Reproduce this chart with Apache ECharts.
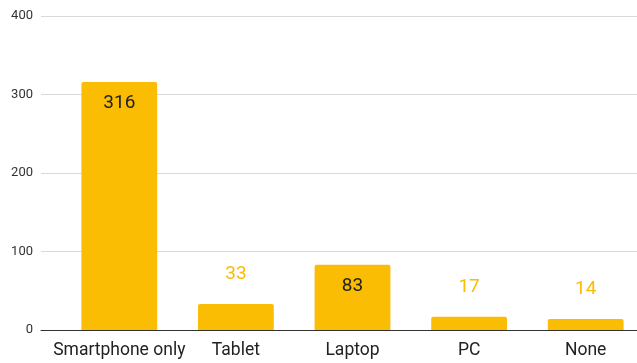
<!DOCTYPE html>
<html>
<head>
<meta charset="utf-8">
<script src="https://cdn.jsdelivr.net/npm/echarts@6/dist/echarts.min.js"></script>
<style>
  html, body { margin: 0; padding: 0; background: #fff; overflow: hidden; }
  /* canvas runs a little past the right edge so the last category keeps full width */
  #chart { width: 650px; height: 363px; }
</style>
</head>
<body>
<div id="chart"></div>
<script>
const categories = ['Smartphone only', 'Tablet', 'Laptop', 'PC', 'None'];
const counts = [316, 33, 83, 17, 14];
const yTicks = [0, 100, 200, 300, 400];

const BAR = '#FBBC04';
const yMin = yTicks[0];
const yMax = yTicks[yTicks.length - 1];
const yStep = yTicks[1] - yTicks[0];

// Tall bars carry their value inside the top; short ones get it above, in bar colour.
const barData = counts.map(v => {
  const inside = v > 50;
  return {
    value: v,
    label: inside
      ? { position: 'insideTop', distance: 12, color: '#222' }
      : { position: 'top', distance: 20, color: BAR }
  };
});

const chart = echarts.init(document.getElementById('chart'), null, { renderer: 'canvas' });
chart.setOption({
  animation: false,
  backgroundColor: '#fff',
  grid: [
    // frame: gridlines, baseline and value labels across the visible width
    { left: 41, right: 13, top: 16, bottom: 33 },
    // bars
    { left: 61, right: 6, top: 16, bottom: 33 }
  ],
  xAxis: [
    {
      gridIndex: 0, type: 'value', min: 0, max: 1,
      axisLine: { show: true, lineStyle: { color: '#333', width: 1 } },
      axisTick: { show: false }, axisLabel: { show: false }, splitLine: { show: false }
    },
    {
      gridIndex: 1, type: 'category', data: categories,
      axisLine: { show: false }, axisTick: { show: false },
      axisLabel: { interval: 0, color: '#222', fontSize: 17.5, fontFamily: 'Roboto', margin: 12 }
    }
  ],
  yAxis: [
    {
      gridIndex: 0, type: 'value', min: yMin, max: yMax, interval: yStep,
      axisLine: { show: false }, axisTick: { show: false },
      axisLabel: { color: '#333', fontSize: 13, fontFamily: 'Roboto', margin: 8 },
      splitLine: { lineStyle: { color: '#d9d9d9', width: 1 } }
    },
    {
      gridIndex: 1, type: 'value', min: yMin, max: yMax, interval: yStep,
      show: false, splitLine: { show: false }
    }
  ],
  series: [{
    type: 'bar',
    xAxisIndex: 1, yAxisIndex: 1,
    data: barData,
    barCategoryGap: '35%',
    itemStyle: { color: BAR, borderRadius: [2, 2, 0, 0] },
    label: { show: true, fontSize: 19, fontFamily: 'Roboto' }
  }]
});
</script>
</body>
</html>
